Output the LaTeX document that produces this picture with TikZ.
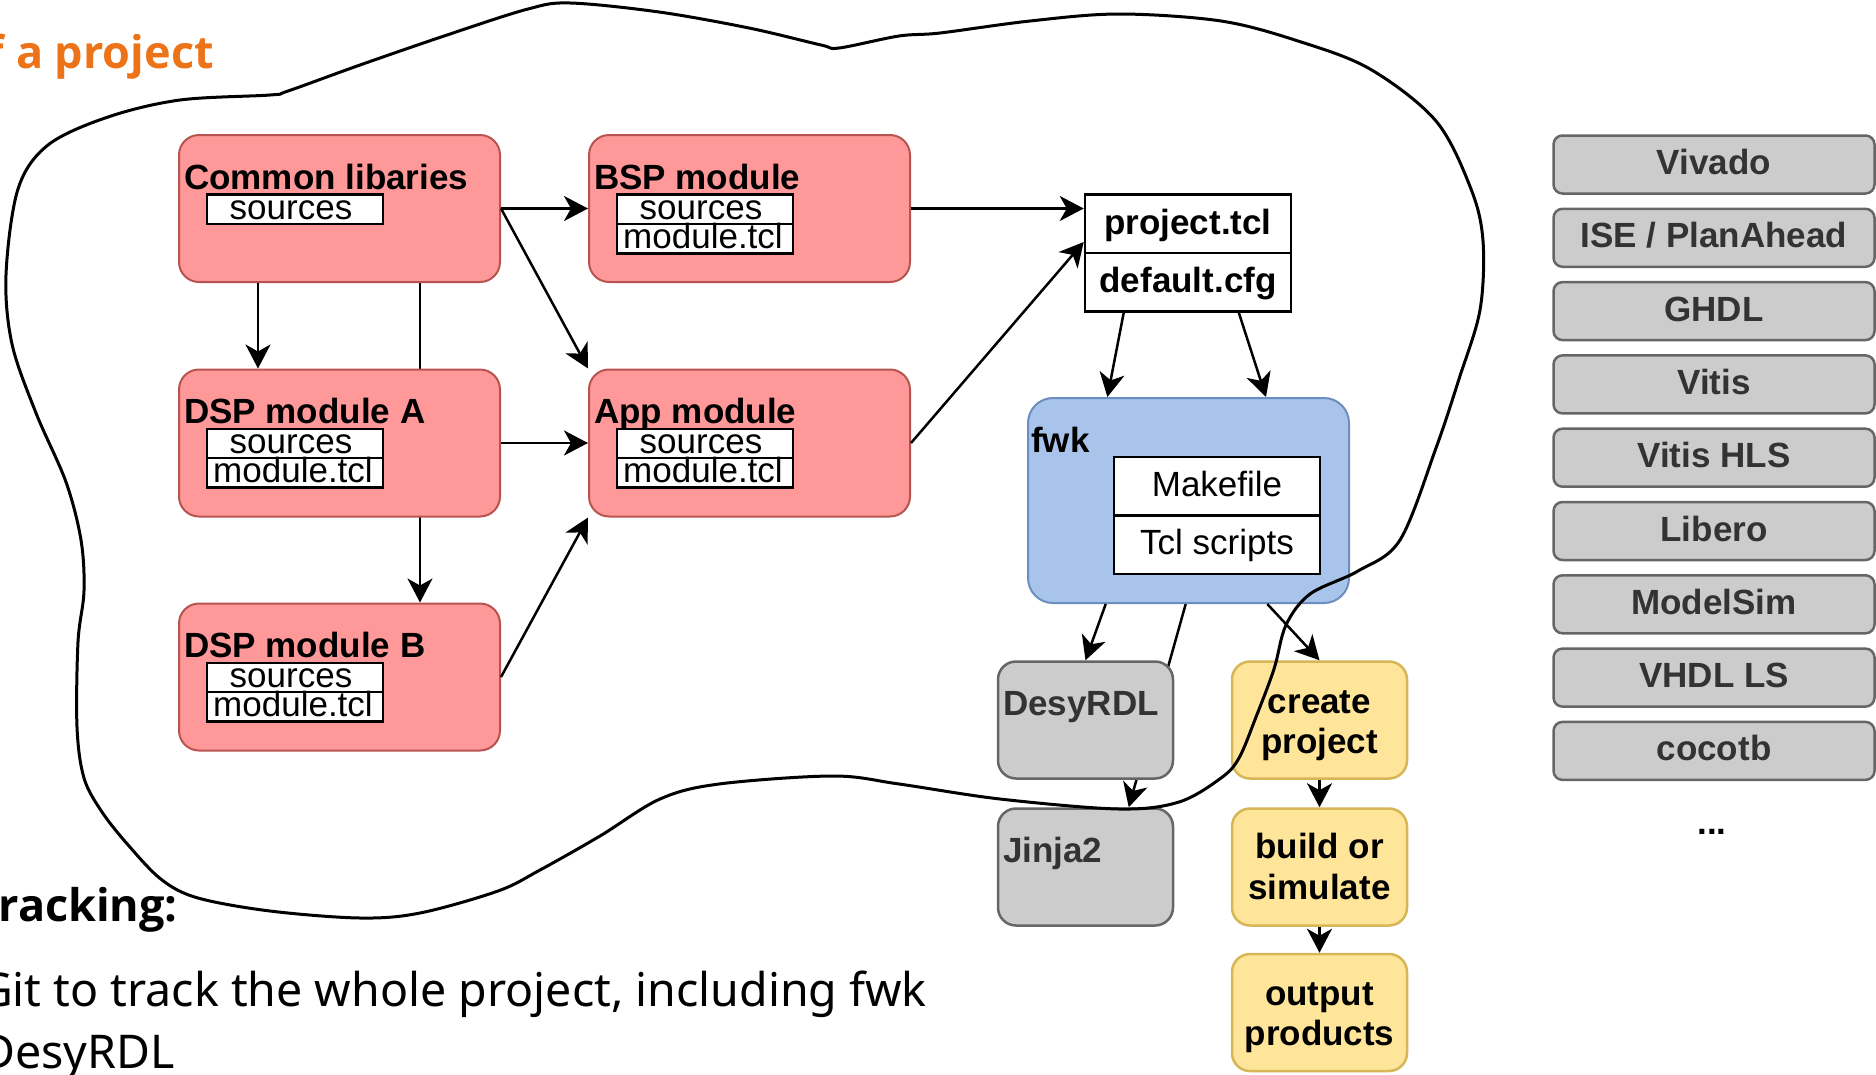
\documentclass[tikz,border=0pt]{standalone}
\usepackage{fontspec}
\setmainfont{Liberation Sans}
\newfontfamily\notofont{Noto Sans}
\newfontfamily\opensansfont{Open Sans}
\usetikzlibrary{arrows.meta,calc,backgrounds}
\definecolor{redfill}{HTML}{FF9999}
\definecolor{redline}{HTML}{B85450}
\definecolor{bluefill}{HTML}{A9C4EB}
\definecolor{blueline}{HTML}{6C8EBF}
\definecolor{grayfill}{HTML}{CCCCCC}
\definecolor{grayline}{HTML}{666666}
\definecolor{graytext}{HTML}{333333}
\definecolor{yellowfill}{HTML}{FFE599}
\definecolor{yellowline}{HTML}{D6B656}
\definecolor{orangetext}{RGB}{236,115,24}
\begin{document}
\begin{tikzpicture}[x=1pt,y=-1pt,
  lbl/.style={font=\fontsize{35}{40}\selectfont, inner sep=0pt},
  blbl/.style={font=\fontsize{35}{40}\selectfont\bfseries, inner sep=0pt},
  modbox/.style={draw=redline, fill=redfill, line width=2pt, rounded corners=20pt, minimum width=321pt, minimum height=147pt, inner sep=0pt},
  subbox/.style={draw=black, fill=white, line width=2.5pt, minimum width=176pt, minimum height=29.5pt, inner sep=0pt},
  filebox/.style={draw=black, fill=white, line width=2.5pt, minimum width=206pt, minimum height=58.5pt, inner sep=0pt},
  toolbox/.style={draw=grayline, fill=grayfill, line width=2.5pt, rounded corners=18pt, minimum width=175pt, minimum height=117pt, inner sep=0pt},
  stepbox/.style={draw=yellowline, fill=yellowfill, line width=2.5pt, rounded corners=18pt, minimum width=175pt, minimum height=117pt, inner sep=0pt},
  steptext/.style={blbl, anchor=base},
  simbox/.style={draw=grayline, fill=grayfill, line width=2.5pt, rounded corners=9pt, minimum width=321pt, minimum height=58pt, inner sep=0pt, font=\fontsize{35}{40}\selectfont\bfseries, text=graytext, text height=20pt, text depth=0pt},
  arr/.style={line width=2.5pt, -{Stealth[length=24pt,width=25pt,inset=7pt]}},
  slidetext/.style={font=\notofont\fontsize{46.5}{50}\selectfont, inner sep=0pt, anchor=base east},
  slidebold/.style={font=\opensansfont\bfseries\fontsize{45}{50}\selectfont, inner sep=0pt, anchor=base east},
]
\useasboundingbox (0,0) rectangle (1876,1074);
\clip (0,0) rectangle (1876,1074);

% slide text
\node[slidebold, text=orangetext] (title) at (214,68.3) {f a project};
\node[slidebold] (tracking) at (178,921.7) {Tracking:};
\node[slidetext] (gitline) at (927,1006.7) {Git to track the whole project, including fwk};
\node[slidetext] (desyline) at (175,1068) {DesyRDL};

% module boxes
\node[modbox] (common) at (339.5,208.5) {};
\node[modbox] (bsp) at (749.5,208.5) {};
\node[modbox] (dspa) at (339.5,443) {};
\node[modbox] (app) at (749.5,443) {};
\node[modbox] (dspb) at (339.5,677) {};

\node[blbl, anchor=base west] (commonT) at (184,189) {Common libaries};
\node[blbl, anchor=base west] (bspT) at (594,189) {BSP module};
\node[blbl, anchor=base west] (dspaT) at (184,423) {DSP module A};
\node[blbl, anchor=base west] (appT) at (594,423) {App module};
\node[blbl, anchor=base west] (dspbT) at (184,657) {DSP module B};

\node[subbox] (commonS) at (295,209) {};
\node[lbl, anchor=base] (commonSt) at (291,219) {sources};

\node[subbox] (bspS) at (705,209) {};
\node[lbl, anchor=base] (bspSt) at (701,219) {sources};
\node[subbox] (bspM) at (705,238.5) {};
\node[lbl, anchor=base] (bspMt) at (703,248.5) {module.tcl};

\node[subbox] (dspaS) at (295,443.5) {};
\node[lbl, anchor=base] (dspaSt) at (291,453.5) {sources};
\node[subbox] (dspaM) at (295,472.5) {};
\node[lbl, anchor=base] (dspaMt) at (293,482.5) {module.tcl};

\node[subbox] (appS) at (705,443.5) {};
\node[lbl, anchor=base] (appSt) at (701,453.5) {sources};
\node[subbox] (appM) at (705,472.5) {};
\node[lbl, anchor=base] (appMt) at (703,482.5) {module.tcl};

\node[subbox] (dspbS) at (295,677.5) {};
\node[lbl, anchor=base] (dspbSt) at (291,687.5) {sources};
\node[subbox] (dspbM) at (295,706.5) {};
\node[lbl, anchor=base] (dspbMt) at (293,716.5) {module.tcl};

% project files
\node[filebox] (ptcl) at (1188,223.5) {};
\node[blbl, anchor=base] (ptclT) at (1188,234) {project.tcl};
\node[filebox] (dcfg) at (1188,282) {};
\node[blbl, anchor=base] (dcfgT) at (1188,292) {default.cfg};

% fwk
\node[draw=blueline, fill=bluefill, line width=2pt, rounded corners=25pt, minimum width=321pt, minimum height=205pt, inner sep=0pt] (fwk) at (1188.5,500.5) {};
\node[blbl, anchor=base west] (fwkT) at (1031,452) {fwk};
\node[filebox] (make) at (1217,486.3) {};
\node[lbl, anchor=base] (makeT) at (1217,496) {Makefile};
\node[filebox] (tcls) at (1217,544.8) {};
\node[lbl, anchor=base] (tclsT) at (1217,554) {Tcl scripts};

% tools
\node[toolbox] (desy) at (1085.5,720) {};
\node[blbl, anchor=base west, text=graytext] (desyT) at (1003,715) {DesyRDL};
\node[toolbox] (jinja) at (1085.5,867) {};
\node[blbl, anchor=base west, text=graytext] (jinjaT) at (1003,862) {Jinja2};

% steps
\node[stepbox] (create) at (1319.5,720) {};
\node[steptext] (createA) at (1319.5,713) {create};
\node[steptext] (createB) at (1319.5,753) {project};
\node[stepbox] (build) at (1319.5,867) {};
\node[steptext] (buildA) at (1319.5,858.5) {build or};
\node[steptext] (buildB) at (1319.5,899) {simulate};
\node[stepbox] (output) at (1319.5,1012.5) {};
\node[steptext] (outputA) at (1319.5,1005) {output};
\node[steptext] (outputB) at (1319.5,1045) {products};

% simulators / vendors
\node[simbox] (vivado) at (1714,164.5) {Vivado};
\node[simbox] (ise) at (1714,237.8) {ISE / PlanAhead};
\node[simbox] (ghdl) at (1714,311.1) {GHDL};
\node[simbox] (vitis) at (1714,384.4) {Vitis};
\node[simbox] (vitishls) at (1714,457.7) {Vitis HLS};
\node[simbox] (libero) at (1714,531.0) {Libero};
\node[simbox] (modelsim) at (1714,604.3) {ModelSim};
\node[simbox] (vhdlls) at (1714,677.6) {VHDL LS};
\node[simbox] (cocotb) at (1714,750.9) {cocotb};
\node[blbl, anchor=base] (dots) at (1712,834) {...};

% connectors behind boxes
\begin{pgfonlayer}{background}
\draw[arr] ($(common.south west)+(242,0)$) -- ($(dspb.north west)+(242,0)$);
\draw[arr] ($(fwk.south west)+(158.7,0)$) -- ($(jinja.north west)+(132,0)$);
\end{pgfonlayer}

% connectors
\draw[arr] (common.east) -- (bsp.west);
\draw[arr] (common.east) -- (app.north west);
\draw[arr] ($(common.south west)+(80,0)$) -- ($(dspa.north west)+(80,0)$);
\draw[arr] (dspa.east) -- (app.west);
\draw[arr] (dspb.east) -- (app.south west);
\draw[arr] (bsp.east) -- (bsp.east -| ptcl.west);
\draw[arr] (app.east) -- ($(ptcl.south west)+(0,-12)$);
\draw[arr] ($(dcfg.south west)+(40,0)$) -- ($(fwk.north west)+(80.4,0)$);
\draw[arr] ($(dcfg.south west)+(155,0)$) -- ($(fwk.north west)+(239,0)$);
\draw[arr] ($(fwk.south west)+(78.7,0)$) -- (desy.north);
\draw[arr] ($(fwk.south west)+(240.3,0)$) -- (create.north);
\draw[arr] (create.south) -- (build.north);
\draw[arr] (build.south) -- (output.north);

% project boundary (freehand)
\draw[line width=3pt, line join=round] plot[smooth cycle, tension=0.55] coordinates {
(288,91) (360,65) (450,34) (528,9) (570,3) (659,12) (749,28) (821,45) (839,48)
(899,36) (940,33) (1030,21) (1119,14) (1221,21) (1298,41) (1370,69) (1436,121)
(1471,189) (1483,241) (1480,310) (1459,379) (1436,448) (1400,540) (1358,571)
(1310,594) (1286,625) (1274,669) (1256,717) (1239,758) (1221,778) (1179,802)
(1119,809) (1000,799) (899,784) (833,776) (719,784) (660,799) (600,836) (540,870)
(498,891) (420,913) (360,918) (270,911) (198,898) (162,880) (129,846) (102,812)
(84,778) (77,727) (78,642) (84,591) (81,540) (66,482) (36,413) (12,344) (6,275)
(18,189) (48,145) (108,117) (180,100) (270,95)};
\end{tikzpicture}
\end{document}
